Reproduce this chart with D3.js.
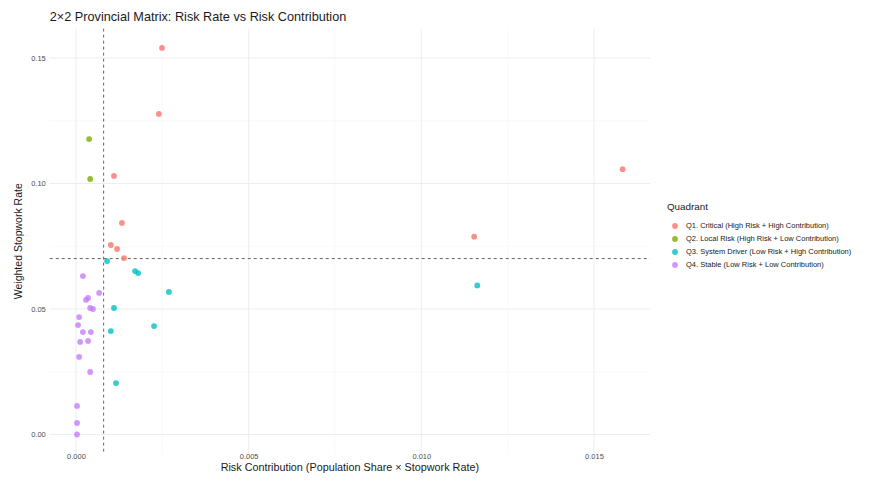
<!DOCTYPE html>
<html>
<head>
<meta charset="utf-8">
<script src="https://cdn.jsdelivr.net/npm/d3@7"></script>
<style>
  body { margin: 0; background: #fff; }
  svg { display: block; font-family: "Liberation Sans", Arial, sans-serif; }
</style>
</head>
<body>
<svg id="chart" width="871" height="482"></svg>
<script>
// ---- Data ----
const quadrants = [
  "Q1. Critical (High Risk + High Contribution)",
  "Q2. Local Risk (High Risk + Low Contribution)",
  "Q3. System Driver (Low Risk + High Contribution)",
  "Q4. Stable (Low Risk + Low Contribution)"
];
const quadrantColors = ["#F8766D", "#7CAE00", "#00BFC4", "#C77CFF"];

const q1Contribution = [0.00249, 0.00240, 0.00110, 0.00133, 0.00101, 0.00119, 0.00139, 0.01583, 0.01153];
const q1Rate         = [0.1540, 0.1277, 0.1030, 0.0843, 0.0755, 0.0739, 0.0703, 0.1057, 0.0788];

const q2Contribution = [0.00038, 0.00041];
const q2Rate         = [0.1177, 0.1018];

const q3Contribution = [0.00090, 0.00171, 0.00180, 0.00269, 0.00110, 0.00226, 0.00101, 0.00116, 0.01162];
const q3Rate         = [0.0691, 0.0651, 0.0643, 0.0568, 0.0504, 0.0432, 0.0412, 0.0205, 0.0594];

const q4Contribution = [0.00020, 0.00067, 0.00035, 0.00029, 0.00041, 0.00049, 0.00009, 0.00006, 0.00020,
                        0.00043, 0.00012, 0.00035, 0.00009, 0.00041, 0.00003, 0.00003, 0.00003];
const q4Rate         = [0.0631, 0.0564, 0.0544, 0.0536, 0.0504, 0.0500, 0.0468, 0.0436, 0.0408,
                        0.0408, 0.0369, 0.0373, 0.0309, 0.0249, 0.0114, 0.0046, 0.0000];

const contributionThreshold = 0.00080;
const rateThreshold = 0.0701;

const xTicks = [0, 0.005, 0.010, 0.015];
const xTickLabels = ["0.000", "0.005", "0.010", "0.015"];
const xMinor = [0.0025, 0.0075, 0.0125];
const yTicks = [0, 0.05, 0.10, 0.15];
const yTickLabels = ["0.00", "0.05", "0.10", "0.15"];
const yMinor = [0.025, 0.075, 0.125];

const titleText = "2\u00d72 Provincial Matrix: Risk Rate vs Risk Contribution";
const xTitle = "Risk Contribution (Population Share \u00d7 Stopwork Rate)";
const yTitle = "Weighted Stopwork Rate";
const legendTitle = "Quadrant";

// ---- Build points table ----
const groups = [
  [q1Contribution, q1Rate],
  [q2Contribution, q2Rate],
  [q3Contribution, q3Rate],
  [q4Contribution, q4Rate]
];
const points = [];
groups.forEach((g, qi) => g[0].forEach((c, i) => points.push({ q: qi, x: c, y: g[1][i] })));

// ---- Scales ----
const x = d3.scaleLinear().domain([0, 0.015]).range([76, 594]);
const y = d3.scaleLinear().domain([0, 0.15]).range([434.5, 58]);
const color = d3.scaleOrdinal().domain(d3.range(4)).range(quadrantColors);

const xExt = d3.extent(points, d => d.x);
const yExt = d3.extent(points, d => d.y);
const xPad = (xExt[1] - xExt[0]) * 0.05;
const yPad = (yExt[1] - yExt[0]) * 0.05;
const px0 = x(xExt[0] - xPad), px1 = x(xExt[1] + xPad);
const py0 = y(yExt[0] - yPad), py1 = y(yExt[1] + yPad);

const svg = d3.select("#chart");

// ---- Grid ----
const grid = svg.append("g");
grid.selectAll(".xminor").data(xMinor).join("line")
  .attr("x1", d => x(d)).attr("x2", d => x(d)).attr("y1", py1).attr("y2", py0)
  .attr("stroke", "#F2F2F2").attr("stroke-width", 0.5);
grid.selectAll(".yminor").data(yMinor).join("line")
  .attr("y1", d => y(d)).attr("y2", d => y(d)).attr("x1", px0).attr("x2", px1)
  .attr("stroke", "#F2F2F2").attr("stroke-width", 0.5);
grid.selectAll(".xmajor").data(xTicks).join("line")
  .attr("x1", d => x(d)).attr("x2", d => x(d)).attr("y1", py1).attr("y2", py0)
  .attr("stroke", "#EBEBEB").attr("stroke-width", 0.9);
grid.selectAll(".ymajor").data(yTicks).join("line")
  .attr("y1", d => y(d)).attr("y2", d => y(d)).attr("x1", px0).attr("x2", px1)
  .attr("stroke", "#EBEBEB").attr("stroke-width", 0.9);

// ---- Axes (tick labels only, like theme_minimal) ----
const xAxis = d3.axisBottom(x).tickValues(xTicks).tickFormat((d, i) => xTickLabels[i]).tickSize(0).tickPadding(0);
const gx = svg.append("g").attr("transform", `translate(0,${py0})`).call(xAxis);
gx.select(".domain").remove();
gx.selectAll("text").attr("fill", "#4D4D4D").style("font-size", "7.5px").style("font-family", "Liberation Sans, Arial, sans-serif");

const yAxis = d3.axisLeft(y).tickValues(yTicks).tickFormat((d, i) => yTickLabels[i]).tickSize(0).tickPadding(4);
const gy = svg.append("g").attr("transform", `translate(${px0},0)`).call(yAxis);
gy.select(".domain").remove();
gy.selectAll("text").attr("fill", "#4D4D4D").style("font-size", "7.5px").style("font-family", "Liberation Sans, Arial, sans-serif");

// ---- Threshold lines ----
svg.append("line")
  .attr("x1", x(contributionThreshold)).attr("x2", x(contributionThreshold))
  .attr("y1", py1).attr("y2", py0)
  .attr("stroke", "#555").attr("stroke-width", 0.9).attr("stroke-dasharray", "3,3");
svg.append("line")
  .attr("y1", y(rateThreshold)).attr("y2", y(rateThreshold))
  .attr("x1", px0).attr("x2", px1)
  .attr("stroke", "#555").attr("stroke-width", 0.9).attr("stroke-dasharray", "3,3");

// ---- Points ----
svg.append("g").selectAll("circle").data(points).join("circle")
  .attr("cx", d => x(d.x)).attr("cy", d => y(d.y)).attr("r", 2.9)
  .attr("fill", d => color(d.q)).attr("fill-opacity", 0.8);

// ---- Titles ----
svg.append("text").attr("x", px0).attr("y", 21)
  .attr("fill", "#1a1a1a").style("font-size", "12.7px").text(titleText);
svg.append("text").attr("x", (px0 + px1) / 2).attr("y", 471).attr("text-anchor", "middle")
  .attr("fill", "#1a1a1a").style("font-size", "10.8px").text(xTitle);
svg.append("text").attr("transform", `translate(22,${(py0 + py1) / 2}) rotate(-90)`)
  .attr("text-anchor", "middle").attr("fill", "#1a1a1a").style("font-size", "10.5px").text(yTitle);

// ---- Legend ----
const lg = svg.append("g").attr("transform", "translate(667,0)");
lg.append("text").attr("x", 0).attr("y", 210).attr("fill", "#1a1a1a").style("font-size", "9.8px").text(legendTitle);
const items = lg.selectAll(".item").data(quadrants).join("g")
  .attr("transform", (d, i) => `translate(0,${226 + i * 13})`);
items.append("circle").attr("cx", 8).attr("cy", 0).attr("r", 2.9)
  .attr("fill", (d, i) => color(i)).attr("fill-opacity", 0.8);
items.append("text").attr("x", 19).attr("y", 0).attr("dy", "0.33em")
  .attr("fill", "#1a1a1a").style("font-size", "7.5px").text(d => d);
</script>
</body>
</html>
